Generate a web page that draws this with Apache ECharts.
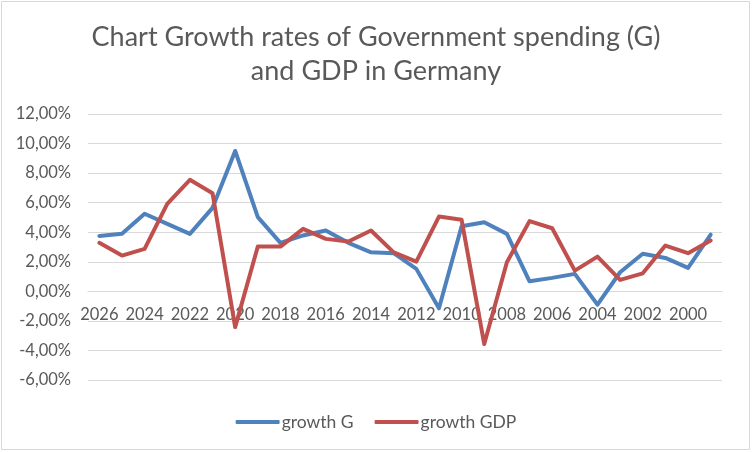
<!DOCTYPE html>
<html>
<head>
<meta charset="utf-8">
<script src="https://cdn.jsdelivr.net/npm/echarts@6/dist/echarts.min.js"></script>
<style>
  html, body { margin: 0; padding: 0; background: #fff; }
  #main { width: 752px; height: 452px; }
</style>
</head>
<body>
<div id="main"></div>
<script>
// years run backwards, like in the source sheet
var years = ['2026','2025','2024','2023','2022','2021','2020','2019','2018','2017',
             '2016','2015','2014','2013','2012','2011','2010','2009','2008','2007',
             '2006','2005','2004','2003','2002','2001','2000','1999'];
// growth of government spending, %
var growthG = [3.75, 3.89, 5.25, 4.57, 3.89, 5.65, 9.50, 5.02, 3.28, 3.78,
               4.12, 3.28, 2.64, 2.58, 1.52, -1.15, 4.41, 4.68, 3.89, 0.68,
               0.91, 1.18, -0.90, 1.29, 2.54, 2.26, 1.59, 3.84];
// growth of GDP, %
var growthGDP = [3.28, 2.42, 2.87, 5.92, 7.55, 6.64, -2.42, 3.03, 3.03, 4.23,
                 3.55, 3.37, 4.12, 2.64, 2.01, 5.06, 4.84, -3.57, 1.97, 4.75,
                 4.27, 1.40, 2.35, 0.77, 1.22, 3.10, 2.58, 3.44];

var myChart = echarts.init(document.getElementById('main'));
var fontName = 'Lato';
var grey = '#595959';

var gridTop = 114, gridBottom = 72;
var yMin = -6, yMax = 12;
// x axis sits on the 0% line like in Excel
var plotH = 452 - gridTop - gridBottom;
var zeroOffset = -plotH * (0 - yMin) / (yMax - yMin);

var option = {
    animation: false,
    backgroundColor: '#fff',
    title: {
        text: 'Chart Growth rates of Government spending (G)\nand GDP in Germany',
        left: 'center',
        top: 15,
        textStyle: {
            fontFamily: fontName,
            fontSize: 27,
            fontWeight: 'normal',
            color: grey,
            lineHeight: 34
        }
    },
    legend: {
        bottom: 16,
        left: 'center',
        itemWidth: 44,
        itemHeight: 4,
        itemGap: 21,
        icon: 'roundRect',
        textStyle: { fontFamily: fontName, fontSize: 17.5, color: grey, padding: [0, 0, 0, -3] },
        data: ['growth G', 'growth GDP']
    },
    graphic: [{
        type: 'rect',
        shape: { x: 1.5, y: 1.5, width: 748, height: 448 },
        style: { fill: 'none', stroke: '#d9d9d9', lineWidth: 1 },
        silent: true
    }],
    grid: { left: 88, right: 30, top: gridTop, bottom: gridBottom },
    xAxis: {
        type: 'category',
        boundaryGap: true,
        data: years,
        offset: zeroOffset,
        axisLine: { onZero: false, lineStyle: { color: '#d9d9d9', width: 1 } },
        axisTick: { show: false },
        axisLabel: {
            interval: 1,
            margin: 15,
            fontFamily: fontName,
            fontSize: 16.5,
            color: grey
        }
    },
    yAxis: {
        type: 'value',
        min: yMin,
        max: yMax,
        interval: 2,
        axisLine: { show: false },
        axisTick: { show: false },
        splitLine: { lineStyle: { color: '#d9d9d9', width: 1 } },
        axisLabel: {
            margin: 17,
            fontFamily: fontName,
            fontSize: 16.5,
            color: grey,
            formatter: function (v) {
                return v.toFixed(2).replace('.', ',') + '%';
            }
        }
    },
    series: [
        {
            name: 'growth G',
            type: 'line',
            data: growthG,
            showSymbol: false,
            symbol: 'none',
            lineStyle: { color: '#4f81bd', width: 4, cap: 'round', join: 'round' },
            itemStyle: { color: '#4f81bd' }
        },
        {
            name: 'growth GDP',
            type: 'line',
            data: growthGDP,
            showSymbol: false,
            symbol: 'none',
            lineStyle: { color: '#c0504d', width: 4, cap: 'round', join: 'round' },
            itemStyle: { color: '#c0504d' }
        }
    ]
};
myChart.setOption(option);
</script>
</body>
</html>
